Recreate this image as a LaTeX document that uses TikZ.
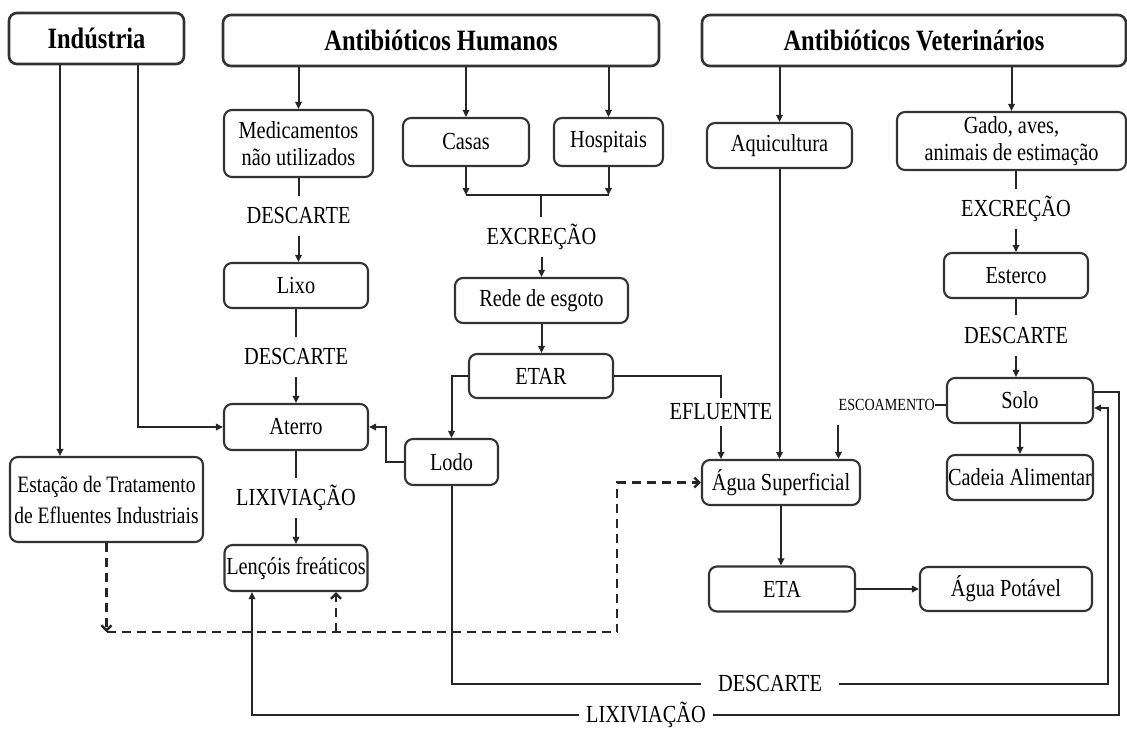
\documentclass[tikz,border=0pt]{standalone}
\usepackage{fontspec}
\setmainfont{Liberation Serif}[FakeStretch=0.83]
\usetikzlibrary{arrows.meta}
\newcommand\nrm{\fontsize{24.5}{27}\selectfont}
\newcommand\erm{\fontsize{23.5}{31}\selectfont}
\newcommand\brm{\fontsize{29.5}{32}\selectfont\bfseries}
\newcommand\srm{\fontsize{17}{18}\selectfont}
\begin{document}
\begin{tikzpicture}[x=1pt,y=-1pt,
 box/.style={draw=black!80, line width=2.1pt, rounded corners=8pt, inner sep=0pt, align=center, font=\nrm},
 tbox/.style={box, line width=2.6pt, font=\brm},
 lab/.style={inner sep=0pt, minimum height=40pt, text height=15pt, text depth=0pt, font=\nrm},
 con/.style={line width=2pt, draw=black!85},
 arr/.style={con, -{Triangle[length=7pt,width=6.5pt]}},
 dsh/.style={con, line width=2.4pt, dash pattern=on 9pt off 6pt},
 darr/.style={dsh, -{Straight Barb[length=5pt,width=10pt]}},
]
\useasboundingbox (0,0) rectangle (1127,731);

% top boxes
\node[tbox, minimum width=175pt, minimum height=51pt] (ind) at (96.5,38.5) {Indústria};
\node[tbox, minimum width=436pt, minimum height=51pt] (ah) at (441,40.5) {Antibióticos Humanos};
\node[tbox, minimum width=424pt, minimum height=51pt] (av) at (914,40.5) {Antibióticos Veterinários};

% second row
\node[box, minimum width=149pt, minimum height=67pt] (med) at (298.5,143.5) {Medicamentos\\não utilizados};
\node[box, minimum width=126pt, minimum height=48pt] (casas) at (466,142) {Casas};
\node[box, minimum width=109pt, minimum height=48pt] (hosp) at (608.5,142) {Hospitais};
\node[box, minimum width=145pt, minimum height=45pt] (aqui) at (779.5,145.5) {Aquicultura};
\node[box, minimum width=229pt, minimum height=58pt] (gado) at (1011.5,141) {Gado, aves,\\animais de estimação};

% left column
\node[box, minimum width=144pt, minimum height=45pt] (lixo) at (296,285.5) {Lixo};
\node[box, minimum width=144pt, minimum height=46pt] (aterro) at (296,427) {Aterro};
\node[box, minimum width=193pt, minimum height=85pt, font=\erm] (etei) at (106.5,499.5) {Estação de Tratamento\\de Efluentes Industriais};
\node[box, minimum width=143pt, minimum height=46pt] (lenc) at (296,568) {Lençóis freáticos};

% middle
\node[box, minimum width=173pt, minimum height=45pt] (rede) at (541.5,300.5) {Rede de esgoto};
\node[box, minimum width=144pt, minimum height=44pt] (etar) at (541,376) {ETAR};
\node[box, minimum width=93pt, minimum height=46pt] (lodo) at (451.5,462) {Lodo};
\node[box, minimum width=158pt, minimum height=45pt] (aguas) at (781,482.5) {Água Superficial};
\node[box, minimum width=146pt, minimum height=45pt] (eta) at (782,589) {ETA};
\node[box, minimum width=172pt, minimum height=44pt] (agp) at (1006,589) {Água Potável};

% right
\node[box, minimum width=144pt, minimum height=45pt] (esterco) at (1016,275.5) {Esterco};
\node[box, minimum width=146pt, minimum height=45pt] (solo) at (1020,400.5) {Solo};
\node[box, minimum width=146pt, minimum height=45pt] (cadeia) at (1020,477.5) {Cadeia Alimentar};

% labels
\node[lab] (d1) at (298.5,216) {DESCARTE};
\node[lab] (d2) at (296,357) {DESCARTE};
\node[lab] (lx1) at (296,498) {LIXIVIAÇÃO};
\node[lab] (ex1) at (541.5,237) {EXCREÇÃO};
\node[lab, minimum height=28pt] (efl) at (721,412) {EFLUENTE};
\node[lab] (ex2) at (1016,209) {EXCREÇÃO};
\node[lab] (d3) at (1016,335.5) {DESCARTE};
\node[inner sep=0pt, font=\srm, text height=11pt, text depth=0pt, anchor=east] (esc) at (935,405) {ESCOAMENTO};
\node[lab, minimum height=0pt, inner xsep=17pt] (d4) at (770,684) {DESCARTE};
\node[lab, minimum height=0pt, inner xsep=7pt] (lx2) at (646,715) {LIXIVIAÇÃO};

\coordinate (mj) at (541,195);
\coordinate (dj) at (617,632);

% Industria
\draw[arr] ([xshift=-36.5pt]ind.south) -- ([xshift=-36.5pt]ind.south |- etei.north);
\draw[arr] ([xshift=41.5pt]ind.south) |- (aterro.west);

% Antibioticos Humanos
\draw[arr] (ah.south -| med.north) -- (med.north);
\draw[arr] (ah.south -| casas.north) -- (casas.north);
\draw[arr] (ah.south -| hosp.north) -- (hosp.north);
\draw[con] (med.south) -- (d1.north);
\draw[arr] (d1.south) -- (d1.south |- lixo.north);
\draw[con] (lixo.south) -- (d2.north);
\draw[arr] (d2.south) -- (aterro.north);
\draw[con] (aterro.south) -- (lx1.north);
\draw[arr] (lx1.south) -- (lenc.north);

\draw[arr] (casas.south) -- (casas.south |- mj);
\draw[arr] (hosp.south) -- (hosp.south |- mj);
\draw[con] (casas.south |- mj) -- (hosp.south |- mj);
\draw[con] (mj) -- (mj |- ex1.north);
\draw[arr] (ex1.south) -- (ex1.south |- rede.north);
\draw[arr] (rede.south) -- (rede.south |- etar.north);
\draw[arr] (etar.west) -| (lodo.north);
\draw[arr] (lodo.west) -- ++(-18,0) |- (aterro.east);
\draw[con] (etar.east) -| (efl.north);
\draw[arr] (efl.south) -- (efl.south |- aguas.north);

% Veterinarios
\draw[arr] (av.south -| aqui.north) -- (aqui.north);
\draw[arr] (av.south -| gado.north) -- (gado.north);
\draw[arr] (aqui.south) -- (aqui.south |- aguas.north);
\draw[con] (gado.south -| ex2.north) -- (ex2.north);
\draw[arr] (ex2.south) -- (esterco.north);
\draw[con] (esterco.south) -- (d3.north);
\draw[arr] (d3.south) -- (d3.south |- solo.north);
\draw[arr] (solo.south) -- (cadeia.north);
\draw[con] (esc.east) -- (esc.east -| solo.west);
\draw[arr] ([yshift=-14pt]esc.south west) -- (esc.south west |- aguas.north);

\draw[arr] (aguas.south) -- (aguas.south |- eta.north);
\draw[arr] (eta.east) -- (agp.west);

% bottom loops
\draw[con] (lodo.south) |- (d4.west);
\draw[arr] (d4.east) -| ([xshift=14pt,yshift=-7.5pt]solo.east) -- ([yshift=-7.5pt]solo.east);
\draw[con] ([yshift=8.5pt]solo.east) -- ++(25,0) |- (lx2.east);
\draw[arr] (lx2.west) -| ([xshift=-44pt]lenc.south);

% dashed
\draw[darr] (etei.south) -- (etei.south |- dj);
\draw[darr] (etei.south |- dj) -- (dj) |- (aguas.west);
\draw[darr] ([xshift=40pt]lenc.south |- dj) -- ([xshift=40pt]lenc.south);
\end{tikzpicture}
\end{document}
